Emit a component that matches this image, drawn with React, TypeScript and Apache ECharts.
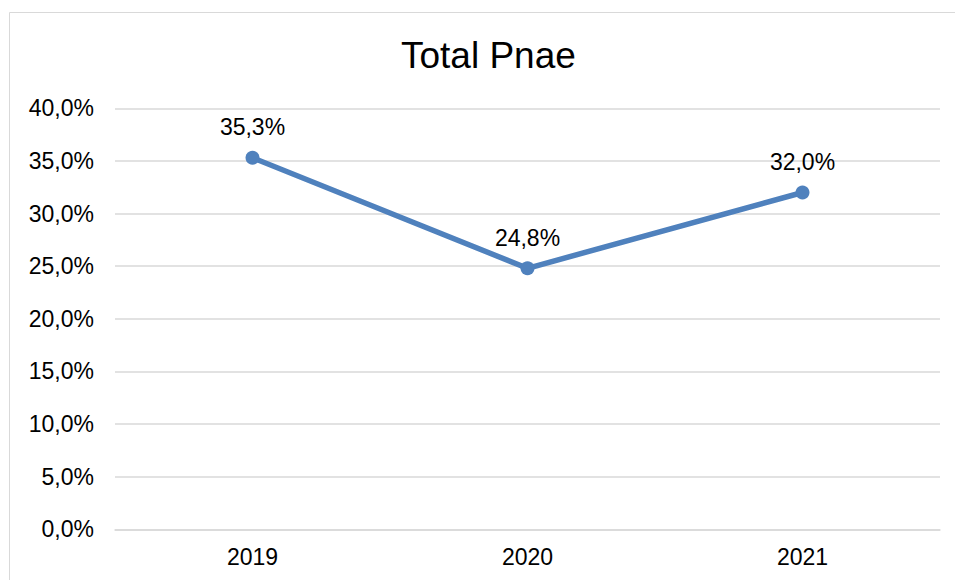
import React, { useEffect, useRef } from "react";
import * as echarts from "echarts";

const categories = ["2019", "2020", "2021"];
const values = [35.3, 24.8, 32.0];
const yMin = 0;
const yMax = 40;
const yInterval = 5;
const titleText = "Total Pnae";

const fmt = (v: number) => v.toFixed(1).replace(".", ",") + "%";

export default function App() {
  const ref = useRef<HTMLDivElement>(null);
  useEffect(() => {
    if (!ref.current) return;
    const chart = echarts.init(ref.current, undefined, { renderer: "svg" });
    const font = "Liberation Sans, Arial, sans-serif";
    chart.setOption({
      animation: false,
      backgroundColor: "#ffffff",
      title: {
        text: titleText,
        left: 396,
        top: 32,
        padding: [5, 5],
        textStyle: { fontFamily: font, fontSize: 37, fontWeight: "normal", color: "#000" },
      },
      graphic: [
        {
          type: "rect",
          shape: { x: 9.5, y: 12.5, width: 1000, height: 700 },
          style: { fill: "none", stroke: "#d9d9d9", lineWidth: 1 },
          silent: true,
        },
      ],
      grid: { left: 115, right: 15, top: 108.3, bottom: 50.7, containLabel: false },
      xAxis: {
        type: "category",
        data: categories,
        boundaryGap: true,
        axisLine: { show: true, lineStyle: { color: "#d9d9d9", width: 1.5 } },
        axisTick: { show: false },
        axisLabel: { fontFamily: font, fontSize: 23, color: "#000", margin: 16 },
      },
      yAxis: {
        type: "value",
        min: yMin,
        max: yMax,
        interval: yInterval,
        axisLine: { show: false },
        axisTick: { show: false },
        splitLine: { lineStyle: { color: "#d9d9d9", width: 1.5 } },
        axisLabel: { fontFamily: font, fontSize: 23, color: "#000", margin: 21, formatter: (v: number) => fmt(v) },
      },
      series: [
        {
          type: "line",
          data: values,
          symbol: "circle",
          symbolSize: 14,
          lineStyle: { color: "#4f81bd", width: 5.5 },
          itemStyle: { color: "#4f81bd" },
          label: {
            show: true,
            position: "top",
            distance: 12,
            fontFamily: font,
            fontSize: 23,
            color: "#000",
            formatter: (p: any) => fmt(p.value),
          },
        },
      ],
    });
    return () => chart.dispose();
  }, []);
  return (
    <div
      ref={ref}
      style={{ position: "absolute", left: 0, top: 0, width: 955, height: 580 }}
    />
  );
}
